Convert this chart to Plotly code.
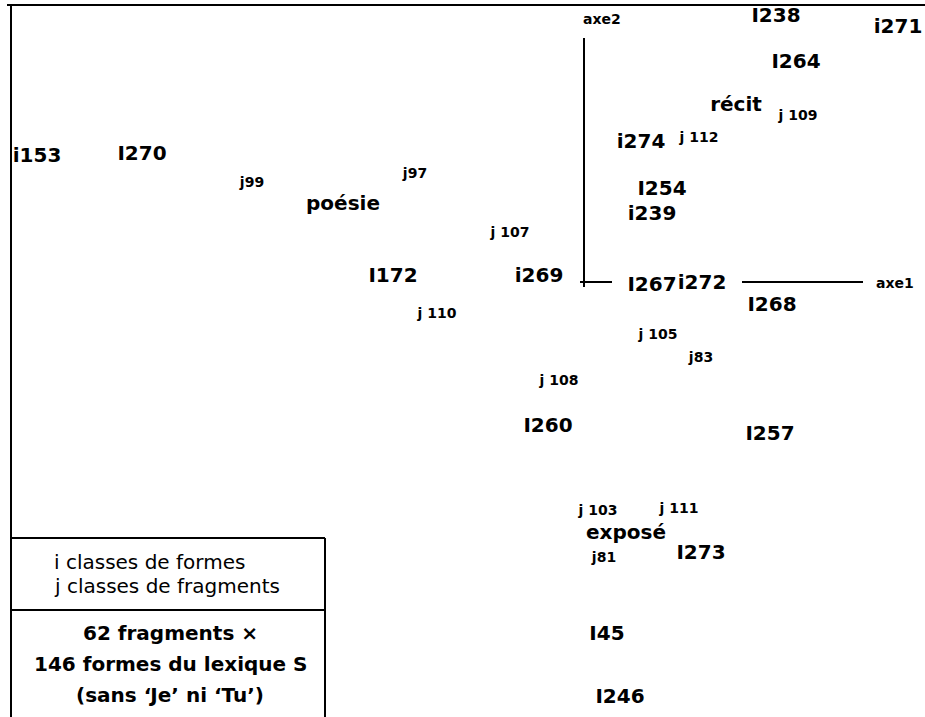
import plotly.graph_objects as go

# ---- data: factor-plane coordinates (axe1, axe2) ----
form_labels = ["i153", "I270", "I172", "i269", "I238", "i271", "I264", "i274", "I254",
               "i239", "I267", "i272", "I268", "I260", "I257", "I273", "I45", "I246"]
form_x = [-5.47, -4.42, -1.91, -0.45, 1.92, 3.14, 2.12, 0.57, 0.78,
          0.68, 0.68, 1.18, 1.88, -0.36, 1.86, 1.17, 0.23, 0.36]
form_y = [1.25, 1.27, 0.05, 0.05, 2.65, 2.54, 2.19, 1.39, 0.92,
          0.67, -0.04, -0.02, -0.24, -1.45, -1.53, -2.72, -3.53, -4.16]

frag_labels = ["j99", "j97", "j 107", "j 110", "j 109", "j 112", "j 105", "j83",
               "j 108", "j 103", "j 111", "j81"]
frag_x = [-3.32, -1.69, -0.74, -1.47, 2.14, 1.15, 0.74, 1.17, -0.25, 0.14, 0.95, 0.20]
frag_y = [0.99, 1.08, 0.49, -0.32, 1.66, 1.44, -0.53, -0.76, -0.99, -2.29, -2.27, -2.76]

genre_labels = ["poésie", "récit", "exposé"]
genre_x = [-2.41, 1.52, 0.42]
genre_y = [0.77, 1.76, -2.52]

legend_lines = ["i classes de formes", "j classes de fragments"]
note_lines = ["62 fragments ×", "146 formes du lexique S", "(sans ‘Je’ ni ‘Tu’)"]

# ---- figure geometry ----
W, H = 925, 717
X_RANGE = [-5.84, 3.41]
Y_RANGE = [-4.35, 2.82]
FONT = "DejaVu Sans"


def px(x):
    return x / W


def py(y):
    return 1 - y / H


fig = go.Figure()
fig.add_trace(go.Scatter(x=form_x, y=form_y, text=form_labels, mode="text",
                         textposition="middle center", hoverinfo="text",
                         textfont=dict(family=FONT, size=20, color="black", weight="bold")))
fig.add_trace(go.Scatter(x=frag_x, y=frag_y, text=frag_labels, mode="text",
                         textposition="middle center", hoverinfo="text",
                         textfont=dict(family=FONT, size=14, color="black", weight="bold")))
fig.add_trace(go.Scatter(x=genre_x, y=genre_y, text=genre_labels, mode="text",
                         textposition="middle center", hoverinfo="text",
                         textfont=dict(family=FONT, size=20, color="black", weight="bold")))

shapes = []
line = dict(color="black", width=2)
# outer frame (top and left)
shapes.append(dict(type="line", xref="paper", yref="paper", x0=px(7), x1=px(925), y0=py(5), y1=py(5), line=line))
shapes.append(dict(type="line", xref="paper", yref="paper", x0=px(11), x1=px(11), y0=py(5), y1=py(717), line=line))
# legend box
shapes.append(dict(type="line", xref="paper", yref="paper", x0=px(11), x1=px(325), y0=py(538), y1=py(538), line=line))
shapes.append(dict(type="line", xref="paper", yref="paper", x0=px(11), x1=px(325), y0=py(610), y1=py(610), line=line))
shapes.append(dict(type="line", xref="paper", yref="paper", x0=px(325), x1=px(325), y0=py(538), y1=py(717), line=line))
# factor axes
shapes.append(dict(type="line", x0=0, x1=0, y0=-0.05, y1=2.44, line=line))
shapes.append(dict(type="line", x0=-0.04, x1=0.28, y0=0, y1=0, line=line))
shapes.append(dict(type="line", x0=1.58, x1=2.79, y0=0, y1=0, line=line))

annotations = [
    dict(x=0.18, y=2.63, text="axe2", showarrow=False,
         font=dict(family=FONT, size=14, color="black", weight="bold")),
    dict(x=3.11, y=-0.01, text="axe1", showarrow=False,
         font=dict(family=FONT, size=14, color="black", weight="bold")),
]
for i, t in enumerate(legend_lines):
    annotations.append(dict(xref="paper", yref="paper", x=px(52), y=py(562 + 24 * i),
                            xanchor="left", yanchor="middle", text=t, showarrow=False,
                            font=dict(family=FONT, size=20, color="black")))
for i, t in enumerate(note_lines):
    annotations.append(dict(xref="paper", yref="paper", x=px(170), y=py(633 + 31 * i),
                            xanchor="center", yanchor="middle", text=t, showarrow=False,
                            font=dict(family=FONT, size=20, color="black", weight="bold")))

fig.update_layout(
    width=W, height=H, margin=dict(l=0, r=0, t=0, b=0),
    paper_bgcolor="white", plot_bgcolor="white", showlegend=False,
    xaxis=dict(range=X_RANGE, visible=False, fixedrange=True),
    yaxis=dict(range=Y_RANGE, visible=False, fixedrange=True),
    shapes=shapes, annotations=annotations,
)
fig.write_html("out.html", config={"displayModeBar": False},
               post_script="document.body.style.margin='0px';document.body.style.overflow='hidden';")
